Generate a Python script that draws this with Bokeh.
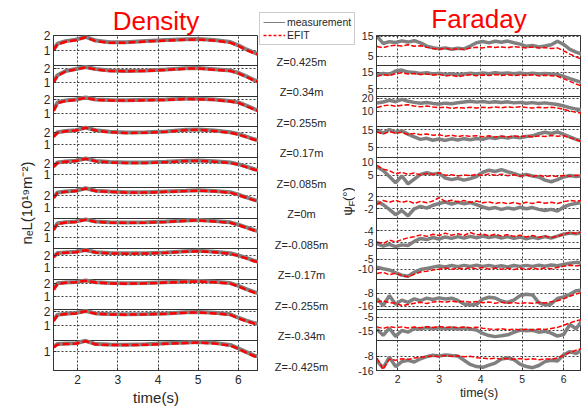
import math
from bokeh.plotting import figure
from bokeh.layouts import row
from bokeh.models import Range1d, FixedTicker, Grid, Label, Legend, LegendItem
from bokeh.embed import file_html
from bokeh.resources import INLINE

# ---------------- data: line-integrated density (left column) ----------------
time_density = [1.4, 1.5, 1.7, 1.95, 2.2, 2.45, 2.8, 3.2, 3.7, 4.2, 4.7, 5.0, 5.4, 5.8, 6.0, 6.2, 6.4, 6.5]

dens_efit_zp425 = [1.0, 1.4, 1.58, 1.68, 1.88, 1.62, 1.52, 1.52, 1.6, 1.66, 1.72, 1.73, 1.66, 1.52, 1.3, 1.02, 0.8, 0.72]
dens_meas_zp425 = [1.05, 1.45, 1.62, 1.72, 1.9, 1.66, 1.55, 1.54, 1.63, 1.69, 1.75, 1.76, 1.7, 1.56, 1.34, 1.06, 0.84, 0.74]
dens_efit_zp340 = [1.0, 1.45, 1.76, 1.9, 2.05, 1.9, 1.8, 1.78, 1.8, 1.87, 1.96, 1.97, 1.88, 1.8, 1.62, 1.38, 1.1, 1.02]
dens_meas_zp340 = [1.04, 1.5, 1.8, 1.93, 2.08, 1.93, 1.83, 1.8, 1.83, 1.9, 1.99, 2.0, 1.92, 1.83, 1.66, 1.42, 1.14, 1.05]
dens_efit_zp255 = [1.2, 1.78, 1.92, 2.0, 2.15, 2.0, 1.96, 1.95, 1.97, 2.0, 2.06, 2.05, 2.0, 1.88, 1.78, 1.55, 1.3, 1.2]
dens_meas_zp255 = [1.25, 1.82, 1.95, 2.03, 2.17, 2.03, 1.99, 1.97, 2.0, 2.03, 2.09, 2.08, 2.03, 1.92, 1.82, 1.59, 1.34, 1.23]
dens_efit_zp170 = [1.65, 2.0, 2.12, 2.18, 2.42, 2.18, 2.05, 1.98, 2.0, 2.08, 2.22, 2.25, 2.15, 2.0, 1.85, 1.62, 1.4, 1.32]
dens_meas_zp170 = [1.7, 2.04, 2.15, 2.21, 2.44, 2.21, 2.08, 2.01, 2.03, 2.11, 2.25, 2.28, 2.18, 2.04, 1.89, 1.66, 1.44, 1.35]
dens_efit_zp085 = [1.7, 2.05, 2.15, 2.22, 2.42, 2.2, 2.1, 2.05, 2.05, 2.12, 2.22, 2.24, 2.16, 2.05, 1.9, 1.68, 1.45, 1.38]
dens_meas_zp085 = [1.74, 2.09, 2.18, 2.25, 2.44, 2.23, 2.13, 2.08, 2.08, 2.15, 2.25, 2.27, 2.2, 2.09, 1.94, 1.72, 1.49, 1.41]
dens_efit_z000 = [1.8, 2.22, 2.32, 2.38, 2.6, 2.38, 2.32, 2.26, 2.26, 2.32, 2.38, 2.42, 2.36, 2.25, 2.05, 1.82, 1.6, 1.52]
dens_meas_z000 = [1.84, 2.26, 2.35, 2.41, 2.62, 2.41, 2.35, 2.29, 2.29, 2.35, 2.41, 2.45, 2.39, 2.29, 2.09, 1.86, 1.64, 1.55]
dens_efit_zm085 = [1.65, 2.2, 2.3, 2.36, 2.55, 2.36, 2.3, 2.28, 2.3, 2.36, 2.46, 2.5, 2.4, 2.28, 2.08, 1.85, 1.6, 1.52]
dens_meas_zm085 = [1.7, 2.24, 2.33, 2.39, 2.58, 2.39, 2.33, 2.31, 2.33, 2.39, 2.49, 2.53, 2.44, 2.32, 2.12, 1.89, 1.64, 1.55]
dens_efit_zm170 = [1.85, 2.15, 2.2, 2.25, 2.4, 2.22, 2.15, 2.13, 2.14, 2.2, 2.3, 2.33, 2.25, 2.12, 1.95, 1.75, 1.52, 1.45]
dens_meas_zm170 = [1.89, 2.19, 2.23, 2.28, 2.43, 2.25, 2.18, 2.16, 2.17, 2.23, 2.33, 2.36, 2.29, 2.16, 1.99, 1.79, 1.56, 1.48]
dens_efit_zm255 = [1.5, 1.95, 2.02, 2.06, 2.18, 2.04, 1.98, 1.96, 1.98, 2.04, 2.1, 2.12, 2.06, 1.96, 1.75, 1.5, 1.28, 1.2]
dens_meas_zm255 = [1.55, 1.99, 2.05, 2.09, 2.2, 2.07, 2.01, 1.99, 2.01, 2.07, 2.13, 2.15, 2.1, 2.0, 1.79, 1.54, 1.32, 1.23]
dens_efit_zm340 = [1.3, 1.72, 1.8, 1.85, 2.0, 1.82, 1.77, 1.76, 1.78, 1.82, 1.9, 1.92, 1.85, 1.75, 1.5, 1.3, 1.12, 1.06]
dens_meas_zm340 = [1.35, 1.76, 1.83, 1.88, 2.02, 1.85, 1.8, 1.79, 1.81, 1.85, 1.93, 1.95, 1.89, 1.79, 1.54, 1.34, 1.16, 1.09]
dens_efit_zm425 = [1.25, 1.45, 1.48, 1.5, 1.68, 1.45, 1.42, 1.41, 1.43, 1.5, 1.55, 1.58, 1.52, 1.38, 1.15, 0.9, 0.66, 0.6]
dens_meas_zm425 = [1.29, 1.49, 1.51, 1.53, 1.7, 1.48, 1.45, 1.44, 1.46, 1.53, 1.58, 1.61, 1.56, 1.42, 1.19, 0.94, 0.7, 0.63]

# ---------------- data: Faraday rotation angle (right column) ----------------
time_faraday = [1.5, 1.65, 1.8, 1.95, 2.1, 2.25, 2.4, 2.55, 2.7, 2.85, 3.0, 3.15, 3.3, 3.45, 3.6, 3.75, 3.9,
                4.05, 4.2, 4.35, 4.5, 4.65, 4.8, 4.95, 5.1, 5.25, 5.4, 5.55, 5.7, 5.85, 6.0, 6.15, 6.3, 6.45]

far_efit_zp425 = [10.0, 9.4, 10.3, 10.6, 10.2, 10.9, 10.1, 10.4, 9.6, 9.0, 8.6, 9.1, 8.4, 8.9, 8.5, 9.2, 9.6,
                  9.3, 9.9, 9.5, 9.8, 9.4, 9.9, 9.6, 9.3, 9.7, 9.2, 9.5, 9.0, 9.3, 7.8, 6.2, 4.8, 3.4]
far_meas_zp425 = [15.2, 11.5, 12.4, 12.0, 12.8, 12.2, 12.9, 11.8, 10.2, 9.4, 8.9, 9.3, 8.6, 9.1, 8.8, 10.2, 11.9,
                  12.5, 11.8, 12.6, 12.1, 12.7, 11.9, 11.2, 10.1, 10.5, 9.8, 10.3, 10.9, 12.6, 11.0, 8.6, 7.2, 6.0]
far_efit_zp340 = [12.4, 13.5, 12.9, 14.0, 14.6, 13.8, 14.2, 13.5, 13.9, 13.2, 13.6, 12.6, 13.1, 12.2, 12.9, 13.4, 12.8,
                  13.3, 12.9, 13.5, 13.0, 13.4, 12.8, 13.2, 12.9, 13.4, 12.7, 13.1, 12.8, 12.5, 11.0, 9.4, 7.8, 6.4]
far_meas_zp340 = [13.6, 14.2, 13.7, 15.6, 16.2, 15.0, 14.8, 14.2, 14.6, 13.9, 14.3, 13.6, 14.0, 13.4, 13.9, 14.3, 13.8,
                  14.4, 14.0, 14.6, 14.1, 14.5, 14.0, 14.4, 13.9, 14.3, 13.8, 14.2, 13.9, 13.6, 12.4, 11.0, 9.8, 8.6]
far_efit_zp255 = [12.8, 14.2, 14.8, 13.9, 14.6, 15.0, 14.1, 13.5, 14.0, 13.2, 12.6, 13.1, 12.2, 12.8, 12.4, 13.0, 12.5,
                  13.1, 12.6, 13.2, 12.7, 13.3, 12.8, 13.4, 12.9, 12.5, 13.1, 12.6, 13.0, 12.4, 11.4, 10.2, 9.1, 8.2]
far_meas_zp255 = [16.4, 17.2, 18.6, 17.4, 19.3, 17.8, 16.9, 16.2, 16.8, 16.1, 15.6, 16.3, 15.8, 16.6, 17.2, 17.8, 17.1,
                  17.6, 16.9, 17.4, 16.8, 17.3, 16.5, 16.9, 16.2, 16.7, 16.0, 16.5, 15.9, 15.2, 14.0, 12.8, 11.6, 10.8]
far_efit_zp170 = [13.8, 12.6, 14.0, 13.1, 13.6, 12.4, 13.0, 12.2, 12.7, 11.9, 12.2, 11.4, 11.9, 11.2, 11.8, 11.3, 11.7,
                  11.1, 11.6, 10.9, 11.4, 11.0, 11.5, 11.1, 11.6, 11.0, 11.5, 11.2, 11.8, 11.4, 11.6, 10.6, 9.4, 8.2]
far_meas_zp170 = [14.8, 13.2, 15.2, 13.6, 14.4, 12.6, 11.0, 9.6, 10.2, 9.1, 9.8, 9.0, 9.9, 9.2, 10.0, 9.4, 10.1,
                  9.6, 10.6, 10.1, 10.9, 10.3, 11.0, 10.5, 11.2, 11.6, 12.8, 13.6, 12.9, 13.8, 12.4, 11.0, 9.6, 8.6]
far_efit_zp085 = [8.8, 7.4, 6.8, 5.6, 6.2, 5.4, 5.9, 5.2, 5.7, 5.4, 6.0, 5.1, 5.3, 4.8, 5.2, 4.9, 5.4,
                  5.0, 5.6, 5.1, 5.5, 4.9, 5.3, 4.7, 5.2, 4.6, 5.1, 4.5, 4.9, 4.6, 5.0, 4.7, 5.1, 4.8]
far_meas_zp085 = [8.2, 6.9, 4.6, 2.2, 4.8, 1.8, 3.6, 5.4, 6.0, 5.5, 5.8, 4.0, 3.4, 3.9, 3.2, 3.8, 4.6,
                  6.2, 7.0, 6.5, 7.2, 6.4, 5.8, 4.9, 5.4, 4.8, 4.4, 3.2, 2.6, 3.4, 4.4, 5.0, 4.6, 4.9]
far_efit_z000 = [-0.6, 0.8, 0.2, 0.9, 0.1, 0.7, -0.2, 0.5, 0.0, 0.6, 1.8, 0.4, 0.9, 0.3, 0.8, 0.2, 0.6,
                 0.0, 0.3, -0.2, 0.2, -0.3, 0.1, -0.4, 0.2, -0.2, 0.3, -0.1, 0.2, -0.2, 0.4, 0.8, 0.5, 0.9]
far_meas_z000 = [0.4, -0.6, -2.2, -4.0, -2.6, -4.4, -2.0, -1.2, -1.8, -0.8, -0.2, 0.3, -0.4, 0.2, -0.3, 0.1, -0.6,
                 -1.4, -2.0, -1.6, -2.2, -1.7, -2.1, -1.5, -2.0, -1.6, -2.2, -2.6, -2.2, -2.8, -1.4, -0.6, -0.2, 0.2]
far_efit_zm085 = [-7.8, -8.4, -7.2, -7.8, -7.0, -6.4, -6.0, -5.4, -5.9, -5.2, -5.6, -4.8, -5.5, -5.0, -5.6, -4.6, -5.4,
                  -5.1, -5.7, -5.2, -5.8, -5.3, -5.9, -5.5, -6.1, -5.6, -6.2, -5.8, -6.3, -5.9, -5.2, -4.6, -4.9, -4.4]
far_meas_zm085 = [-8.4, -9.2, -8.6, -9.4, -8.8, -9.0, -7.6, -6.6, -7.0, -6.3, -6.8, -6.1, -6.6, -6.0, -6.5, -5.9, -6.4,
                  -5.8, -6.3, -5.9, -6.5, -6.0, -6.6, -6.1, -6.7, -6.2, -6.6, -6.0, -6.5, -5.8, -5.2, -4.8, -5.0, -4.6]
far_efit_zm170 = [-12.2, -11.6, -12.8, -12.0, -13.2, -13.8, -12.6, -11.4, -11.0, -10.4, -10.0, -9.4, -10.1, -9.5, -10.0, -9.3, -9.8,
                  -9.2, -9.9, -9.4, -10.0, -9.5, -10.2, -9.6, -10.1, -9.5, -10.0, -9.4, -9.8, -9.2, -8.6, -8.0, -8.4, -7.8]
far_meas_zm170 = [-9.0, -9.8, -10.4, -11.8, -13.0, -13.6, -11.6, -10.2, -9.6, -9.0, -8.4, -8.9, -8.2, -8.8, -8.1, -8.7, -8.0,
                  -8.6, -8.1, -8.8, -8.3, -8.9, -8.2, -8.7, -8.1, -8.6, -8.0, -8.5, -7.9, -8.3, -7.6, -7.0, -6.6, -6.8]
far_efit_zm255 = [-13.4, -12.6, -13.8, -14.2, -15.6, -15.0, -14.2, -13.6, -14.3, -13.4, -13.0, -13.6, -12.8, -13.4, -12.9, -13.5, -13.1,
                  -13.9, -13.4, -14.1, -13.5, -14.2, -13.7, -14.3, -13.8, -14.2, -13.6, -14.0, -13.2, -12.6, -11.4, -9.8, -8.4, -7.2]
far_meas_zm255 = [-11.2, -15.6, -9.4, -14.8, -12.2, -13.6, -11.4, -12.6, -11.0, -11.8, -10.8, -11.5, -11.0, -12.4, -14.6, -15.2, -14.8,
                  -11.6, -10.4, -10.9, -12.8, -13.6, -12.2, -9.4, -8.6, -9.0, -13.8, -15.2, -14.6, -11.2, -10.2, -8.6, -6.4, -6.0]
far_efit_zm340 = [-12.2, -13.4, -12.0, -12.8, -12.2, -13.0, -12.3, -12.9, -12.1, -12.6, -12.0, -12.7, -12.2, -12.8, -12.3, -12.9, -12.4,
                  -13.2, -13.8, -14.2, -13.6, -14.4, -13.9, -14.6, -14.0, -14.5, -13.8, -14.2, -13.4, -12.6, -11.0, -9.2, -7.6, -6.6]
far_meas_zm340 = [-14.0, -18.6, -13.2, -19.4, -15.0, -16.2, -13.4, -13.9, -12.8, -13.6, -12.9, -13.7, -13.0, -13.8, -13.2, -13.9, -14.6,
                  -17.2, -18.8, -19.6, -19.0, -18.2, -16.4, -14.6, -15.2, -14.8, -16.2, -15.6, -17.0, -19.2, -18.0, -10.4, -13.6, -7.0]
far_efit_zm425 = [-9.0, -15.2, -9.6, -10.2, -9.4, -9.8, -9.0, -8.6, -8.1, -7.8, -8.2, -7.6, -8.0, -7.7, -8.3, -8.0, -8.8,
                  -9.0, -9.5, -9.1, -9.6, -9.2, -9.7, -9.3, -9.8, -9.4, -9.9, -9.5, -9.6, -9.0, -7.4, -5.8, -4.6, -3.6]
far_meas_zm425 = [-10.4, -14.6, -8.4, -13.8, -11.0, -10.2, -11.2, -9.4, -8.2, -7.4, -7.8, -7.2, -7.6, -7.9, -10.2, -12.6, -13.8,
                  -14.2, -13.0, -11.8, -9.6, -9.0, -9.8, -12.4, -13.8, -14.4, -13.2, -11.0, -10.2, -10.6, -7.2, -5.4, -6.4, -4.2]

# ---------------- labels, ticks, axis limits ----------------
z_labels = ["Z=0.425m", "Z=0.34m", "Z=0.255m", "Z=0.17m", "Z=0.085m", "Z=0m",
            "Z=-0.085m", "Z=-0.17m", "Z=-0.255m", "Z=-0.34m", "Z=-0.425m"]
time_ticks = [2, 3, 4, 5, 6]
dens_ticks = [[1, 2], [1, 2], [1, 2], [1, 2], [1, 2], [1, 2], [1, 2], [1, 2], [1, 2], [1, 2], [1, 2]]
far_ticks = [[5, 15], [5, 15], [10, 20], [5, 15], [5, 10], [-2, 2], [-8, -4], [-10, -5], [-16, -8], [-15, -5], [-16, -8]]
dens_limits = [(-0.05, 2.0), (0.0, 2.15), (0.05, 2.25), (-0.1, 2.5), (-0.15, 2.55), (0.1, 2.66),
               (0.03, 2.68), (0.09, 2.53), (0.0, 2.3), (-0.05, 2.12), (-0.3, 1.75)]
far_limits = [(0.25, 15.5), (0.3, 18.7), (-2.4, 21.6), (-0.6, 16.7), (0.3, 11.9), (-5.2, 5.1),
              (-10.1, 0.28), (-15.0, 0.25), (-18.1, 0.86), (-22.2, 0.92), (-16.0, 1.14)]

dens_meas = [dens_meas_zp425, dens_meas_zp340, dens_meas_zp255, dens_meas_zp170, dens_meas_zp085, dens_meas_z000,
             dens_meas_zm085, dens_meas_zm170, dens_meas_zm255, dens_meas_zm340, dens_meas_zm425]
dens_efit = [dens_efit_zp425, dens_efit_zp340, dens_efit_zp255, dens_efit_zp170, dens_efit_zp085, dens_efit_z000,
             dens_efit_zm085, dens_efit_zm170, dens_efit_zm255, dens_efit_zm340, dens_efit_zm425]
far_meas = [far_meas_zp425, far_meas_zp340, far_meas_zp255, far_meas_zp170, far_meas_zp085, far_meas_z000,
            far_meas_zm085, far_meas_zm170, far_meas_zm255, far_meas_zm340, far_meas_zm425]
far_efit = [far_efit_zp425, far_efit_zp340, far_efit_zp255, far_efit_zp170, far_efit_zp085, far_efit_z000,
            far_efit_zm085, far_efit_zm170, far_efit_zm255, far_efit_zm340, far_efit_zm425]

for arr in dens_meas + dens_efit:
    assert len(arr) == len(time_density)
for arr in far_meas + far_efit:
    assert len(arr) == len(time_faraday), len(arr)

FONT = "Liberation Sans"
TXT = "#262626"
AX = "#333333"
GRIDC = "#3a3a3a"
RED = "#ff0000"
GRAY = "#808080"

H = 411
TOP, BOTTOM = 35, 41
NP = len(z_labels)
PX = (H - TOP - BOTTOM) / NP   # pixels per stacked panel


def stacked_figure(width, b_left, b_right, x_range, limits, ticks, tick_size, xlabel_size, xlabel_standoff):
    n = len(limits)
    p = figure(width=width, height=H, x_range=x_range, y_range=Range1d(0, n),
               output_backend="svg", toolbar_location=None,
               min_border_left=b_left, min_border_right=b_right,
               min_border_top=TOP, min_border_bottom=BOTTOM,
               background_fill_color="white", border_fill_color="white")
    p.outline_line_color = AX
    p.outline_line_width = 1

    pos, over = [], {}
    for i, ((lo, hi), tv) in enumerate(zip(limits, ticks)):
        base = n - 1 - i
        for v in tv:
            if lo <= v <= hi:
                yv = round(base + (v - lo) / (hi - lo), 6)
                pos.append(yv)
                over[yv] = str(v)
    yt = FixedTicker(ticks=pos, minor_ticks=[])
    p.yaxis.ticker = yt
    p.yaxis.major_label_overrides = over
    p.ygrid.ticker = yt
    xt = FixedTicker(ticks=time_ticks, minor_ticks=[])
    p.xaxis.ticker = xt
    p.xgrid.ticker = xt
    for g in (p.xgrid, p.ygrid):
        g.grid_line_color = GRIDC
        g.grid_line_dash = "2 2"
        g.grid_line_width = 1
        g.grid_line_alpha = 1.0
    sep = Grid(dimension=1, ticker=FixedTicker(ticks=list(range(1, n)), minor_ticks=[]),
               grid_line_color=AX, grid_line_width=1)
    p.add_layout(sep)

    for ax in (p.xaxis, p.yaxis):
        ax.axis_line_color = AX
        ax.major_tick_line_color = AX
        ax.major_tick_in = 3
        ax.major_tick_out = 0
        ax.minor_tick_line_color = None
        ax.major_label_text_font = FONT
        ax.major_label_text_font_size = tick_size
        ax.major_label_text_color = TXT
    p.yaxis.major_label_standoff = 3
    p.xaxis.major_label_standoff = 4
    p.xaxis.axis_label = "time(s)"
    p.xaxis.axis_label_text_font = FONT
    p.xaxis.axis_label_text_font_size = xlabel_size
    p.xaxis.axis_label_text_font_style = "normal"
    p.xaxis.axis_label_text_color = TXT
    p.xaxis.axis_label_standoff = xlabel_standoff
    return p


def set_title(p, text, standoff, offset):
    p.title.text = text
    p.title.align = "center"
    p.title.text_font = FONT
    p.title.text_font_size = "26px"
    p.title.text_font_style = "normal"
    p.title.text_color = RED
    p.title.standoff = standoff
    p.title.offset = offset


def add_panels(p, limits, t, meas_list, efit_list, meas_style, efit_style):
    n = len(limits)
    for i, ((lo, hi), meas, efit) in enumerate(zip(limits, meas_list, efit_list)):
        base = n - 1 - i
        sub = p.subplot(x_source=p.x_range, y_source=Range1d(lo, hi),
                        x_target=p.x_range, y_target=Range1d(base, base + 1))
        sub.line(t, meas, **meas_style)
        sub.line(t, efit, **efit_style)


def add_text(p, x, y, text, size, color=TXT, align="center", baseline="middle", angle=0.0):
    p.add_layout(Label(x=x, y=y, text=text, text_font=FONT,
                       text_font_size=size, text_color=color, text_align=align,
                       text_baseline=baseline, angle=angle))


# ---------------- left column: density ----------------
left = stacked_figure(258, 53, 0, Range1d(1.4, 6.5), dens_limits, dens_ticks, "12px", "15px", 2)
set_title(left, "Density", 0, 0)
left.yaxis.axis_label = "nₑL(10¹⁹m⁻²)"
left.yaxis.axis_label_text_font = FONT
left.yaxis.axis_label_text_font_size = "15px"
left.yaxis.axis_label_text_font_style = "normal"
left.yaxis.axis_label_text_color = TXT
left.yaxis.axis_label_standoff = 6
add_panels(left, dens_limits, time_density, dens_meas, dens_efit,
           dict(line_color=GRAY, line_width=4),
           dict(line_color=RED, line_width=2.5, line_dash="7 3"))

# ---------------- middle strip: Z labels, legend, psi label ----------------
# full-height frame (not aligned with the columns); vertical unit = one stacked panel
MID_X0, MID_W = 258, 97


def sy(pixel_from_top):
    # vertical position measured from the top of the page -> panel units
    return NP - (pixel_from_top - TOP) / PX


mid = figure(width=MID_W, height=H, x_range=Range1d(MID_X0, MID_X0 + MID_W),
             y_range=Range1d(sy(H), sy(0)), output_backend="svg", toolbar_location=None,
             x_axis_location=None, y_axis_location=None,
             min_border_left=0, min_border_right=0, min_border_top=0, min_border_bottom=0,
             background_fill_color="white", border_fill_color="white")
mid.frame_align = False
mid.outline_line_color = None
mid.grid.visible = False

for i, zl in enumerate(z_labels):
    add_text(mid, 301, NP - 1 - i + 4 / PX, zl, "11px")

add_text(mid, 347, sy(215), "ψ", "13px", align="left", angle=math.pi / 2)
add_text(mid, 350.5, sy(206), "F", "9.5px", align="left", angle=math.pi / 2)
add_text(mid, 347, sy(200.5), "(°)", "13px", align="left", angle=math.pi / 2)

# legend proxies: a single undefined point each, so nothing is drawn in the strip itself
NAN = float("nan")
r_meas = mid.line(x=[NAN], y=[NAN], line_color=GRAY, line_width=1)
r_efit = mid.line(x=[NAN], y=[NAN], line_color=RED, line_width=1.5, line_dash="3 2")
legend = Legend(items=[LegendItem(label="measurement", renderers=[r_meas], index=0),
                       LegendItem(label="EFIT", renderers=[r_efit], index=0)],
                location=(1, H - 45), margin=0, padding=3, spacing=1,
                label_height=12, glyph_height=12, glyph_width=22, label_standoff=2,
                label_text_font=FONT, label_text_font_size="10.5px", label_text_color=TXT,
                border_line_color="#9a9a9a", border_line_width=1,
                background_fill_color="white", background_fill_alpha=1.0)
mid.add_layout(legend)

# ---------------- right column: Faraday ----------------
right = stacked_figure(226, 21, 0, Range1d(1.49, 6.43), far_limits, far_ticks, "10.5px", "12.5px", 0)
set_title(right, "Faraday", 3, 4.5)
add_panels(right, far_limits, time_faraday, far_meas, far_efit,
           dict(line_color=GRAY, line_width=3.5),
           dict(line_color=RED, line_width=1.5, line_dash="5 2"))

layout = row(left, mid, right, spacing=0)
open("out.html", "w").write(file_html(layout, INLINE))
